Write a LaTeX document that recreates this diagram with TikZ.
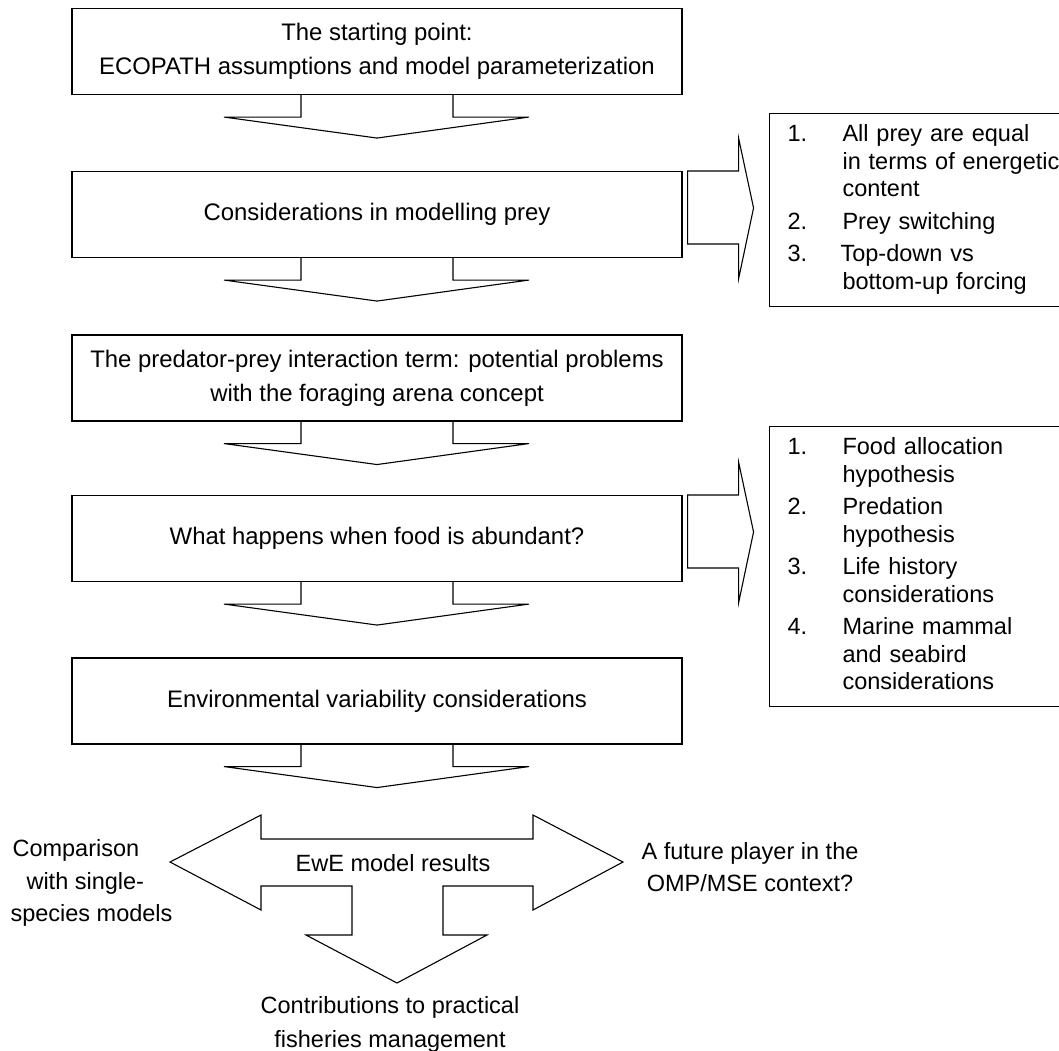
\documentclass[tikz,border=0pt]{standalone}
\usepackage{fontspec}
\setmainfont{Liberation Sans}
\usepackage{tikz}

\begin{document}
\begin{tikzpicture}[x=1pt, y=-1pt, line width=1.1pt,
    stepbox/.style={draw, minimum width=610pt, minimum height=86pt, align=center, font=\fontsize{23.9}{34}\selectfont},
    listbox/.style={draw, anchor=north west, inner xsep=18pt, text width=290pt, align=left, font=\fontsize{23.5}{27.5}\selectfont},
    outcome/.style={align=center, font=\fontsize{23.5}{32.5}\selectfont}]
    \useasboundingbox (0,0) rectangle (1059,1050);
    % main column
    \node[stepbox] (start) at (377,51.5) {The starting point:\\ECOPATH assumptions and model parameterization};
    \node[stepbox] (prey) at (377,214.5) {Considerations in modelling prey};
    \node[stepbox] (arena) at (377,378) {The predator-prey interaction term: potential problems\\with the foraging arena concept};
    \node[stepbox] (food) at (377,538.5) {What happens when food is abundant?};
    \node[stepbox] (enviro) at (377,701) {Environmental variability considerations};
    % hollow arrows down
    \draw (start.south) ++(-76,0) -- ++(0,22) -- ++(-77,0) -- ++(153,21) -- ++(152,-21) -- ++(-76,0) -- ++(0,-22);
    \draw (prey.south) ++(-76,0) -- ++(0,22) -- ++(-77,0) -- ++(153,21) -- ++(152,-21) -- ++(-76,0) -- ++(0,-22);
    \draw (arena.south) ++(-76,0) -- ++(0,22) -- ++(-77,0) -- ++(153,21) -- ++(152,-21) -- ++(-76,0) -- ++(0,-22);
    \draw (food.south) ++(-76,0) -- ++(0,22) -- ++(-77,0) -- ++(153,21) -- ++(152,-21) -- ++(-76,0) -- ++(0,-22);
    \draw (enviro.south) ++(-76,0) -- ++(0,22) -- ++(-77,0) -- ++(153,21) -- ++(152,-21) -- ++(-76,0) -- ++(0,-22);
    % side lists
    \node[listbox, minimum height=193pt] (preylist) at (769,113) {%
        \begin{tabular}{@{}p{55pt}@{}l@{}}
        1. & All prey are equal\\
           & in terms of energetic\\
           & content\\[5pt]
        2. & Prey switching\\[5pt]
        3. & \hspace{-2pt}Top-down vs\\
           & bottom-up forcing
        \end{tabular}};
    \node[listbox, minimum height=280pt] (foodlist) at (769,426) {%
        \begin{tabular}{@{}p{55pt}@{}l@{}}
        1. & Food allocation\\
           & hypothesis\\[5pt]
        2. & Predation\\
           & hypothesis\\[5pt]
        3. & Life history\\
           & considerations\\[5pt]
        4. & Marine mammal\\
           & and seabird\\
           & considerations
        \end{tabular}};
    \draw (prey.north east) ++(5,0) -- ++(51,0) -- ++(0,-33) -- ++(15,70) -- ++(-15,71) -- ++(0,-35) -- ++(-51,0) -- cycle;
    \draw (food.north east) ++(5,0) -- ++(51,0) -- ++(0,-33) -- ++(15,70) -- ++(-15,71) -- ++(0,-35) -- ++(-51,0) -- cycle;
    % results and where they lead
    \node[outcome] (results) at (393,863) {EwE model results};
    \draw (261,839) -- (533,839) -- (533,815) -- (623,862) -- (533,910) -- (533,886) -- (443,886)
        -- (443,935) -- (487,935) -- (397,983) -- (306,935) -- (352,935) -- (352,886)
        -- (261,886) -- (261,910) -- (170,862) -- (261,815) -- cycle;
    \node[outcome, align=left, anchor=west, inner xsep=0pt] (single) at (10,883) {\hspace{2pt}Comparison\\\hspace{16pt}with single-\\species models};
    \node[outcome] (omp) at (750,867) {A future player in the\\OMP/MSE context?};
    \node[outcome, font=\fontsize{23.5}{34}\selectfont] (practical) at (390,1024) {Contributions to practical\\fisheries management};
\end{tikzpicture}
\end{document}
